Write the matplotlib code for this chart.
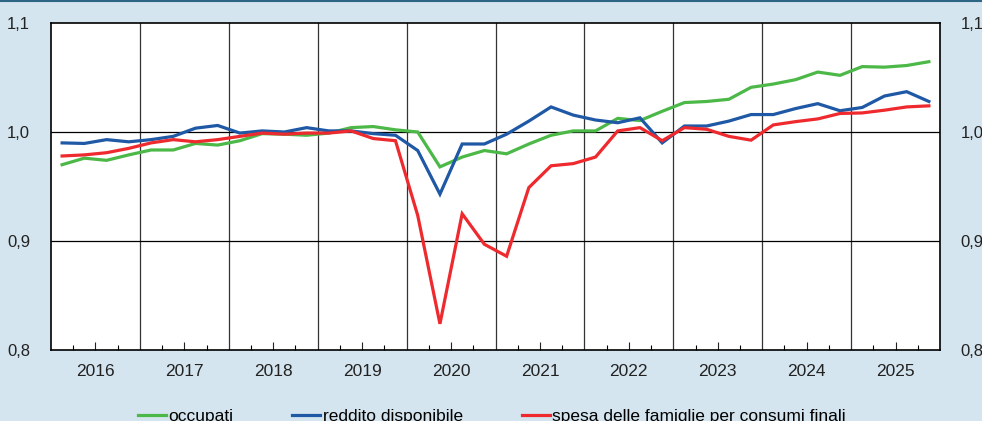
import numpy as np
import pandas as pd
import matplotlib
matplotlib.use("Agg")
import matplotlib.pyplot as plt
from matplotlib.lines import Line2D
from matplotlib.ticker import FixedLocator, FuncFormatter

plt.rcParams['font.family'] = ['Liberation Sans', 'DejaVu Sans']

# quarterly data, 2016Q1 - 2025Q4
quarters = pd.period_range("2016Q1", "2025Q4", freq="Q")

occupati = [0.970, 0.976, 0.974, 0.979, 0.9835, 0.9835, 0.9895, 0.988,
            0.992, 0.9985, 0.998, 0.997, 0.999, 1.004, 1.005, 1.002,
            1.000, 0.968, 0.977, 0.983, 0.980, 0.989, 0.997, 1.001,
            1.001, 1.0125, 1.0105, 1.019, 1.027, 1.028, 1.030, 1.041,
            1.044, 1.048, 1.055, 1.052, 1.060, 1.0595, 1.061, 1.0645]

reddito = [0.990, 0.9895, 0.993, 0.991, 0.993, 0.996, 1.0035, 1.006,
           0.999, 1.001, 1.000, 1.004, 1.001, 1.001, 0.9985, 0.997,
           0.983, 0.943, 0.989, 0.989, 0.998, 1.010, 1.023, 1.0155,
           1.011, 1.0085, 1.013, 0.990, 1.0055, 1.0055, 1.010, 1.016,
           1.016, 1.0215, 1.026, 1.0195, 1.0225, 1.033, 1.037, 1.028]

spesa = [0.978, 0.979, 0.981, 0.985, 0.990, 0.993, 0.991, 0.993,
         0.996, 0.999, 0.998, 0.999, 0.999, 1.001, 0.994, 0.992,
         0.9235, 0.824, 0.925, 0.897, 0.886, 0.949, 0.969, 0.971,
         0.977, 1.001, 1.004, 0.992, 1.004, 1.0025, 0.996, 0.9925,
         1.0065, 1.0095, 1.012, 1.017, 1.0175, 1.020, 1.023, 1.024]

years = list(range(2016, 2026))
yticks = [0.8, 0.9, 1.0, 1.1]

labels = ["occupati", "reddito disponibile", "spesa delle famiglie per consumi finali"]
colors = ["#4cb847", "#1f58a5", "#ee2a2e"]

bg = "#d4e5ef"

x = np.array([q.year + (q.quarter - 1) * 0.25 + 0.125 for q in quarters])

fig = plt.figure(figsize=(9.82, 4.21), dpi=100, facecolor=bg)
ax = fig.add_axes([51 / 982, 71 / 421, 889 / 982, 327 / 421])
ax.set_facecolor("white")

for y, c, lab in zip([occupati, reddito, spesa], colors, labels):
    ax.plot(x, y, color=c, lw=2.3, label=lab, solid_joinstyle="miter", zorder=3)

ax.set_xlim(2016, 2026)
ax.set_ylim(0.8, 1.1)

# year separators and horizontal grid
for yr in years[1:]:
    ax.axvline(yr, color="#333333", lw=0.9, zorder=1)
for v in yticks[1:-1]:
    ax.axhline(v, color="black", lw=0.9, zorder=1)

ax.set_yticks(yticks)
ax.yaxis.set_major_formatter(FuncFormatter(lambda v, p: f"{v:.1f}".replace(".", ",")))
ax.tick_params(axis="y", length=0, labelsize=12, pad=15, labelright=True, colors="#222222")

ax.xaxis.set_major_locator(FixedLocator([yr + 0.5 for yr in years]))
ax.set_xticklabels([str(yr) for yr in years])
ax.xaxis.set_minor_locator(FixedLocator([yr + q for yr in years for q in (0.25, 0.75)]))
ax.tick_params(axis="x", which="major", direction="in", length=6, width=0.8, labelsize=12.5, pad=10, colors="#222222")
ax.tick_params(axis="x", which="minor", direction="in", length=3.5, width=0.8)

for s in ax.spines.values():
    s.set_color("black")
    s.set_linewidth(1.2)

fig.legend(loc="upper left", bbox_to_anchor=(138 / 982, 12 / 421), ncol=3, frameon=False,
           fontsize=12.5, handlelength=1.6, handletextpad=0.15, columnspacing=3.4,
           borderaxespad=0, borderpad=0)

fig.add_artist(Line2D([0, 1], [0.998, 0.998], transform=fig.transFigure, color="#2d6684", lw=1.5))

fig.savefig("out.png", dpi=100, facecolor=bg)
